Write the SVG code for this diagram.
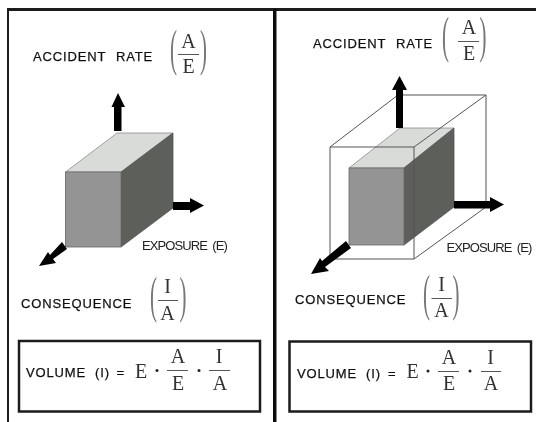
<svg xmlns="http://www.w3.org/2000/svg" width="536" height="422" viewBox="0 0 536 422">
<defs>
<style>
.lbl{font-family:"Liberation Sans",Arial,sans-serif;fill:#111;stroke:#111;stroke-width:.25;font-size:13px;letter-spacing:.85px}
.exp{font-family:"Liberation Sans",Arial,sans-serif;fill:#222;font-size:13px;letter-spacing:-.9px;word-spacing:2.500px}
.m{font-family:"Liberation Serif","Times New Roman",serif;fill:#333;font-size:20px;text-anchor:middle}
.par{font-family:"Liberation Serif","Times New Roman",serif;fill:#777;font-size:30px;text-anchor:middle}
.fb{stroke:#555;stroke-width:1;fill:none}
.dot{fill:#222}
.top{fill:#d9dbd9;stroke:#8a8c8a;stroke-width:.8}
.front{fill:#949494;stroke:#666;stroke-width:.8}
.side{fill:#5c5e5a;stroke:#555;stroke-width:.8}
.frame{fill:none;stroke:#1a1a1a;stroke-width:3}
.vol{fill:none;stroke:#1a1a1a;stroke-width:2.500}
.wire{fill:none;stroke:#555;stroke-width:1}
.arrow{fill:#050505}
</style>
<filter id="soft" x="0" y="0" width="100%" height="100%"><feGaussianBlur stdDeviation="0.35"/></filter>
</defs>
<rect width="536" height="422" fill="#fff"/>
<g filter="url(#soft)">
<g id="frames">
<path class="frame" d="M7.500 422V9.500H536"/>
<rect x="273" y="9" width="3.500" height="413" fill="#111"/>
</g>
<g id="left-cube">
<polygon class="top" points="65.500,172 117,133 173,133 121,172"/>
<polygon class="side" points="121,172 173,133 173,208 121,247"/>
<rect class="front" x="65.500" y="172" width="55.500" height="75"/>
</g>
<g id="right-cube">
<polygon class="top" points="349,168 400,128 454,128 404,168"/>
<polygon class="side" points="404,168 454,128 454,207 404,245"/>
<rect class="front" x="349" y="168" width="55" height="77"/>
</g>
<g id="connectors">
<path class="wire" d="M330 147H414V259H330Z M330 147L398 95H486V207L414 259 M414 147L486 95"/>
<polygon class="arrow" points="114,131 114,107 111.500,107 118,93 125,107 121.500,107 121.500,131"/>
<polygon class="arrow" points="173,202 190,202 190,198 204,205.500 190,213 190,210 173,210"/>
<polygon class="arrow" points="62,242 67,249 53,259 56,263 39,266 48,252 50,255"/>
<polygon class="arrow" points="396,128 396,90 392,90 399.500,76 407,90 403,90 403,128"/>
<polygon class="arrow" points="454,201 490,201 490,197 504,204.500 490,212 490,208.500 454,208.500"/>
<polygon class="arrow" points="346,241 351,248 325,267 329,271 311,274 320,258 322,261"/>
</g>
<g id="accident-left">
<text class="lbl" x="33" y="61">ACCIDENT<tspan x="116">RATE</tspan></text>
<text class="par" transform="translate(173.500 65) scale(.7 1.7)">(</text>
<text class="m" x="188.500" y="48">A</text><path class="fb" d="M178 54.500H199"/><text class="m" x="188.500" y="73">E</text>
<text class="par" transform="translate(203.500 65) scale(.7 1.7)">)</text>
</g>
<g id="accident-right">
<text class="lbl" x="313" y="48">ACCIDENT<tspan x="396">RATE</tspan></text>
<text class="par" transform="translate(445.500 52) scale(.7 1.7)">(</text>
<text class="m" x="469" y="34">A</text><path class="fb" d="M458 41.500H479"/><text class="m" x="469" y="60">E</text>
<text class="par" transform="translate(483 52) scale(.7 1.7)">)</text>
</g>
<g id="exposure-left"><text class="exp" x="142" y="250">EXPOSURE (E)</text></g>
<g id="exposure-right"><text class="exp" x="446.500" y="252">EXPOSURE (E)</text></g>
<g id="consequence-left">
<text class="lbl" x="21" y="308">CONSEQUENCE</text>
<text class="par" transform="translate(153.500 312) scale(.7 1.7)">(</text>
<text class="m" x="167.500" y="293">I</text><path class="fb" d="M158 300.500H178"/><text class="m" x="167.500" y="320">A</text>
<text class="par" transform="translate(183 312) scale(.7 1.7)">)</text>
</g>
<g id="consequence-right">
<text class="lbl" x="295" y="304">CONSEQUENCE</text>
<text class="par" transform="translate(426.500 310) scale(.7 1.7)">(</text>
<text class="m" x="441.500" y="291">I</text><path class="fb" d="M431.500 298.500H452"/><text class="m" x="441.500" y="317">A</text>
<text class="par" transform="translate(456 310) scale(.7 1.7)">)</text>
</g>
<g id="volume-left">
<rect class="vol" x="19" y="341" width="241" height="70.500"/>
<text class="lbl" x="26" y="377">VOLUME<tspan x="95">(I)</tspan><tspan x="116.500">=</tspan></text>
<text class="m" x="141" y="378">E</text>
<circle class="dot" cx="157" cy="370.500" r="1.500"/>
<text class="m" x="178" y="363">A</text><path class="fb" d="M167 370.500H188"/><text class="m" x="178" y="390">E</text>
<circle class="dot" cx="199" cy="370.500" r="1.500"/>
<text class="m" x="219" y="363">I</text><path class="fb" d="M209 370.500H230"/><text class="m" x="220" y="390">A</text>
</g>
<g id="volume-right">
<rect class="vol" x="289.500" y="341.500" width="241.500" height="70"/>
<text class="lbl" x="297" y="378">VOLUME<tspan x="366">(I)</tspan><tspan x="388">=</tspan></text>
<text class="m" x="412.500" y="378">E</text>
<circle class="dot" cx="428" cy="371" r="1.500"/>
<text class="m" x="449" y="364">A</text><path class="fb" d="M438 371.500H459"/><text class="m" x="449" y="390">E</text>
<circle class="dot" cx="470" cy="371" r="1.500"/>
<text class="m" x="490.500" y="364">I</text><path class="fb" d="M481 371.500H501"/><text class="m" x="491" y="390">A</text>
</g>
</g>
</svg>
